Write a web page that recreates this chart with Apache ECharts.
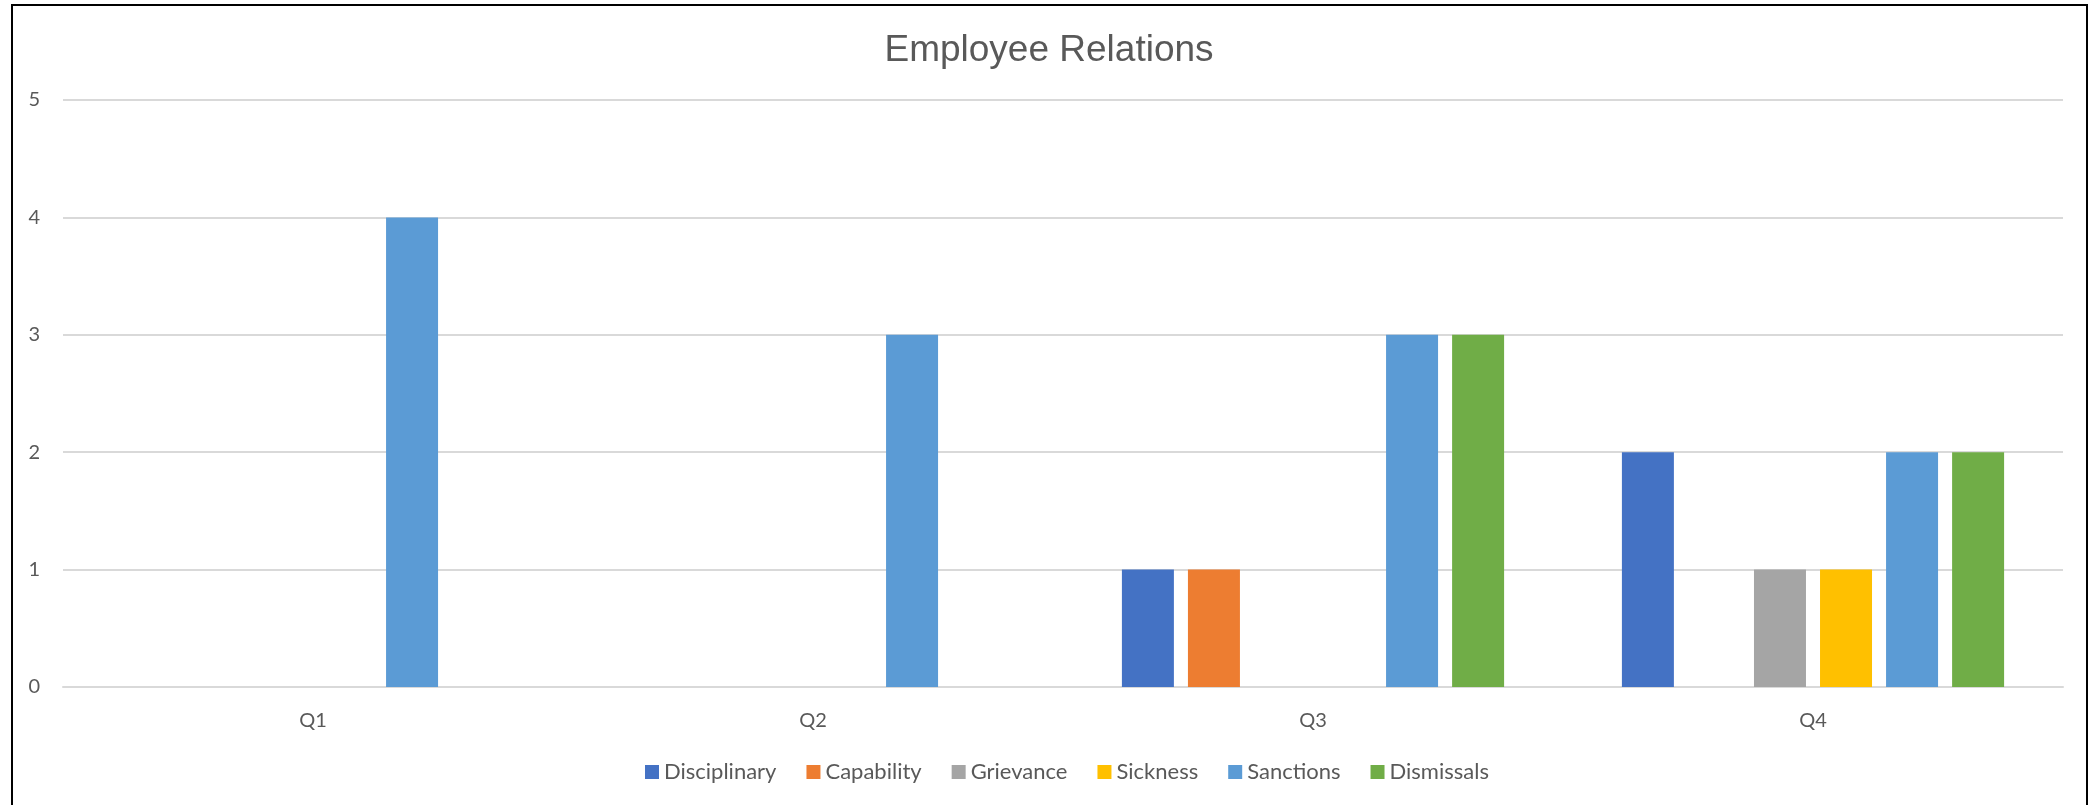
<!DOCTYPE html>
<html>
<head>
<meta charset="utf-8">
<script src="https://cdn.jsdelivr.net/npm/echarts@6/dist/echarts.min.js"></script>
<style>
  html, body { margin: 0; padding: 0; background: #fff; overflow: hidden; }
  #frame { position: absolute; left: 11px; top: 4px; width: 2077px; height: 900px; border: 2px solid #000; box-sizing: border-box; }
  #chart { position: absolute; left: 0; top: 0; width: 2098px; height: 805px; }
</style>
</head>
<body>
<div id="frame"></div>
<div id="chart"></div>
<script>
// Quarterly employee relations case counts
const quarters = ['Q1', 'Q2', 'Q3', 'Q4'];
const disciplinary = [0, 0, 1, 2];
const capability = [0, 0, 1, 0];
const grievance = [0, 0, 0, 1];
const sickness = [0, 0, 0, 1];
const sanctions = [4, 3, 3, 2];
const dismissals = [0, 0, 3, 2];
const yTicks = [0, 1, 2, 3, 4, 5];

const seriesDefs = [
  { name: 'Disciplinary', data: disciplinary, color: '#4472C4' },
  { name: 'Capability', data: capability, color: '#ED7D31' },
  { name: 'Grievance', data: grievance, color: '#A5A5A5' },
  { name: 'Sickness', data: sickness, color: '#FFC000' },
  { name: 'Sanctions', data: sanctions, color: '#5B9BD5' },
  { name: 'Dismissals', data: dismissals, color: '#70AD47' }
];

const textColor = '#595959';
const gridColor = '#D9D9D9';
const labelFont = 'Lato, "Open Sans", sans-serif';

const chart = echarts.init(document.getElementById('chart'), null, { renderer: 'canvas' });
chart.setOption({
  animation: false,
  backgroundColor: 'transparent',
  title: {
    text: 'Employee Relations',
    left: 'center',
    top: 27,
    textStyle: { fontFamily: '"Liberation Sans", Arial, sans-serif', fontSize: 37, fontWeight: 'normal', color: textColor }
  },
  legend: {
    bottom: 17,
    left: 640,
    itemWidth: 14,
    itemHeight: 14,
    itemGap: 30,
    icon: 'rect',
    textStyle: { fontFamily: labelFont, fontSize: 22, color: textColor },
    data: seriesDefs.map(s => s.name)
  },
  grid: { left: 63, right: 35, top: 100, bottom: 118, containLabel: false },
  xAxis: {
    type: 'category',
    data: quarters,
    axisLine: { show: true, lineStyle: { color: gridColor, width: 2 } },
    axisTick: { show: false },
    axisLabel: { margin: 24, fontFamily: labelFont, fontSize: 20, color: textColor }
  },
  yAxis: {
    type: 'value',
    min: yTicks[0],
    max: yTicks[yTicks.length - 1],
    interval: 1,
    axisLine: { show: false },
    axisTick: { show: false },
    splitLine: { lineStyle: { color: gridColor, width: 2 } },
    axisLabel: { margin: 23, fontFamily: labelFont, fontSize: 20, color: textColor }
  },
  series: seriesDefs.map(s => ({
    name: s.name,
    type: 'bar',
    data: s.data,
    barWidth: 52,
    barGap: '27%',
    itemStyle: { color: s.color }
  }))
});
</script>
</body>
</html>
